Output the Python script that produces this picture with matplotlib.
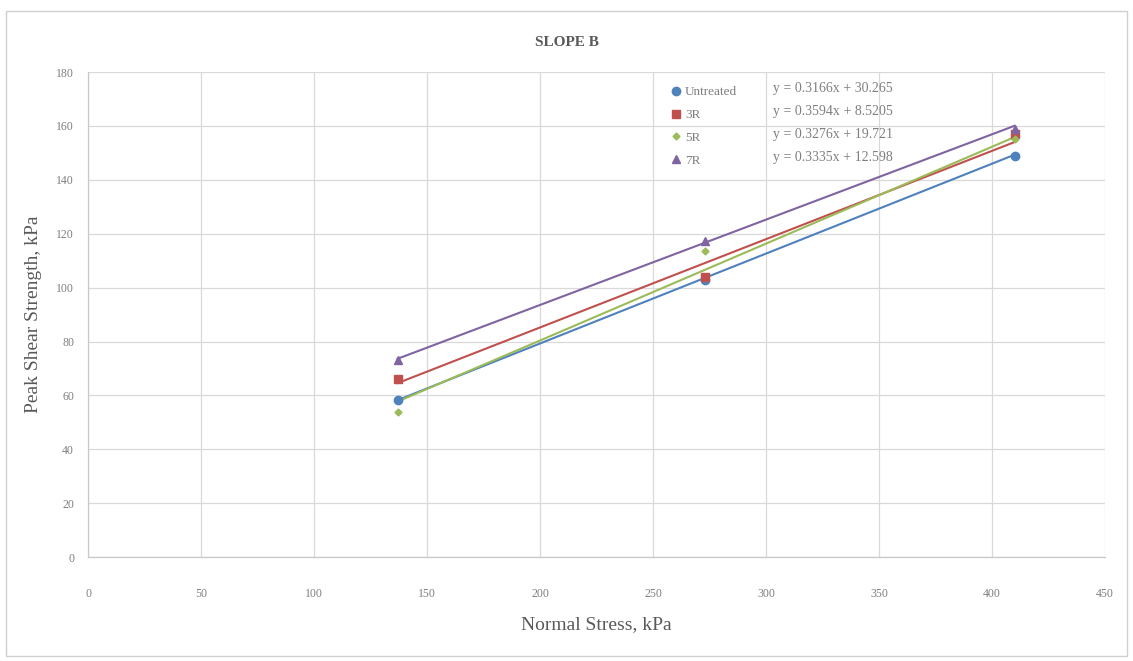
import matplotlib
matplotlib.use("Agg")
import matplotlib.pyplot as plt
from matplotlib.patches import Rectangle

# normal stress levels of the shear box tests (kPa)
normal_stress = [137, 273, 410]

series_names = ["Untreated", "3R", "5R", "7R"]
untreated = [58.5, 103.0, 149.0]
r3 = [66.0, 104.0, 157.0]
r5 = [54.0, 113.5, 155.0]
r7 = [73.0, 117.5, 159.0]

# linear trendlines, one per series (slope, intercept)
trend_slope = [0.3335, 0.3276, 0.3594, 0.3166]
trend_intercept = [12.598, 19.721, 8.5205, 30.265]

# equation labels as listed beside the legend
equation_labels = [
    "y = 0.3166x + 30.265",
    "y = 0.3594x + 8.5205",
    "y = 0.3276x + 19.721",
    "y = 0.3335x + 12.598",
]

x_ticks = list(range(0, 451, 50))
y_ticks = list(range(0, 181, 20))

colors = ["#4F81BD", "#C0504D", "#9BBB59", "#8064A2"]
markers = ["o", "s", "D", "^"]
marker_sizes = [6, 6, 3.5, 6]

plt.rcParams["font.family"] = ["Liberation Serif", "DejaVu Serif"]

fig = plt.figure(figsize=(11.33, 6.61), dpi=100)
fig.patches.append(
    Rectangle((0.005, 0.008), 0.99, 0.975, transform=fig.transFigure,
              facecolor="none", edgecolor="#D0D0D0", linewidth=1.0)
)
ax = fig.add_axes([0.0777, 0.157, 0.8976, 0.734])

values = [untreated, r3, r5, r7]
x_line = [normal_stress[0], normal_stress[-1]]
for name, ys, color, marker, ms, m, b in zip(
    series_names, values, colors, markers, marker_sizes, trend_slope, trend_intercept
):
    ax.plot(x_line, [m * x + b for x in x_line], color=color, linewidth=1.5, zorder=2)
    ax.plot(normal_stress, ys, linestyle="none", marker=marker, markersize=ms,
            color=color, markeredgecolor=color, label=name, zorder=3)

ax.set_xlim(0, 450)
ax.set_ylim(0, 180)
ax.set_xticks(x_ticks)
ax.set_yticks(y_ticks)
ax.grid(True, color="#D9D9D9", linewidth=0.9)
ax.set_axisbelow(True)
ax.tick_params(length=0, labelsize=8.5, labelcolor="#7F7F7F")
ax.tick_params(axis="x", pad=22)
ax.tick_params(axis="y", pad=10)
for side in ["top", "right"]:
    ax.spines[side].set_visible(False)
for side in ["left", "bottom"]:
    ax.spines[side].set_color("#C8C8C8")
    ax.spines[side].set_linewidth(0.9)

ax.set_xlabel("Normal Stress, kPa", fontsize=14, color="#595959", labelpad=12)
ax.set_ylabel("Peak Shear Strength, kPa", fontsize=14, color="#595959", labelpad=10)
fig.text(0.5, 0.935, "SLOPE B", ha="center", va="center", fontsize=11,
         fontweight="bold", color="#595959")

leg = ax.legend(loc="upper left", bbox_to_anchor=(0.5625, 0.99), frameon=False,
                fontsize=9.5, labelspacing=0.8, handletextpad=0.2,
                handlelength=1.0, borderpad=0.2)
for text in leg.get_texts():
    text.set_color("#7F7F7F")

for i, label in enumerate(equation_labels):
    ax.text(0.6735, 0.967 - i * 0.048, label, transform=ax.transAxes,
            fontsize=10, color="#7F7F7F", va="center", ha="left")

fig.savefig("out.png", dpi=100)
